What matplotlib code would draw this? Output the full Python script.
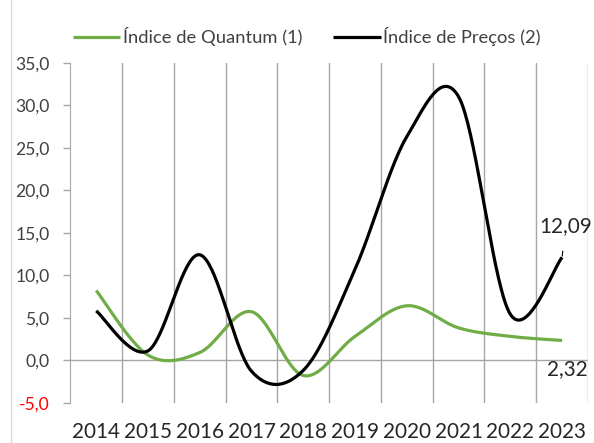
import numpy as np
import matplotlib
matplotlib.use('Agg')
import matplotlib.pyplot as plt
from matplotlib.ticker import FuncFormatter
from matplotlib.lines import Line2D

anos = ['2014', '2015', '2016', '2017', '2018', '2019', '2020', '2021', '2022', '2023']
quantum = [8.2, 0.6, 0.9, 5.7, -1.8, 2.8, 6.4, 3.8, 2.8, 2.32]
precos = [5.8, 1.1, 12.4, -1.3, -1.2, 10.7, 26.3, 31.0, 5.4, 12.09]


def suavizar(x, y, n=40):
    # curva suave tipo Excel (Catmull-Rom)
    px = np.concatenate([[x[0]], x, [x[-1]]])
    py = np.concatenate([[y[0]], y, [y[-1]]])
    xs, ys = [], []
    t = np.linspace(0, 1, n)
    for i in range(1, len(px) - 2):
        p0, p1, p2, p3 = px[i-1:i+3]
        q0, q1, q2, q3 = py[i-1:i+3]
        c1x, c2x = p1 + (p2 - p0) / 6, p2 - (p3 - p1) / 6
        c1y, c2y = q1 + (q2 - q0) / 6, q2 - (q3 - q1) / 6
        b0, b1, b2, b3 = (1-t)**3, 3*(1-t)**2*t, 3*(1-t)*t**2, t**3
        xs.append(b0*p1 + b1*c1x + b2*c2x + b3*p2)
        ys.append(b0*q1 + b1*c1y + b2*c2y + b3*q2)
    return np.concatenate(xs), np.concatenate(ys)


plt.rcParams['font.family'] = ['Lato', 'DejaVu Sans']
cinza = '#a6a6a6'
texto = '#404040'

fig = plt.figure(figsize=(5.94, 4.43), dpi=100)
ax = fig.add_axes([0.1184, 0.0910, 0.8715, 0.7675])

x = np.arange(len(anos)) + 0.5
sx, sy = suavizar(x, np.array(quantum))
ax.plot(sx, sy, color='#70ad47', lw=2.3, label='Índice de Quantum (1)', solid_capstyle='butt')
sx, sy = suavizar(x, np.array(precos))
ax.plot(sx, sy, color='black', lw=2.3, label='Índice de Preços (2)', solid_capstyle='butt')

ax.set_xlim(0, len(anos))
ax.set_ylim(-5, 35)
ax.set_yticks(np.arange(-5, 36, 5))
ax.yaxis.set_major_formatter(FuncFormatter(lambda v, p: f'{v:.1f}'.replace('.', ',')))
ax.tick_params(axis='y', direction='out', length=5, width=1, color=cinza,
               labelsize=12.6, labelcolor=texto, pad=10)
ax.get_yticklabels()[0].set_color('#ff0000')

ax.set_xticks(x)
ax.set_xticklabels(anos)
ax.tick_params(axis='x', length=0, labelsize=14.9, labelcolor='#262626', pad=14)
ax.set_xticks(np.arange(1, len(anos) + 1), minor=True)
ax.tick_params(axis='x', which='minor', length=0)
ax.grid(axis='x', which='minor', color=cinza, lw=1)

for s in ['top', 'right', 'bottom']:
    ax.spines[s].set_visible(False)
ax.spines['left'].set_color(cinza)
ax.axhline(0, color=cinza, lw=1, zorder=1)

ax.annotate('12,09', xy=(x[-1], precos[-1]), xytext=(x[-1] + 0.06, 15.8),
            ha='center', va='center', fontsize=14.9, color='#262626',
            arrowprops=dict(arrowstyle='-', color='black', lw=0.8, shrinkA=9, shrinkB=1))
ax.text(x[-1] + 0.1, -1.1, '2,32', ha='center', va='center', fontsize=14.9, color='#262626')

ax.legend(loc='center left', bbox_to_anchor=(0.1225, 0.917), bbox_transform=fig.transFigure,
          ncol=2, frameon=False, fontsize=13.2, handlelength=2.6, handletextpad=0.12,
          columnspacing=1.7, labelcolor=texto, borderaxespad=0, borderpad=0)

fig.add_artist(Line2D([11 / 594, 11 / 594], [0, 1], color='#d9d9d9', lw=1))

fig.savefig('out.png', dpi=100)
